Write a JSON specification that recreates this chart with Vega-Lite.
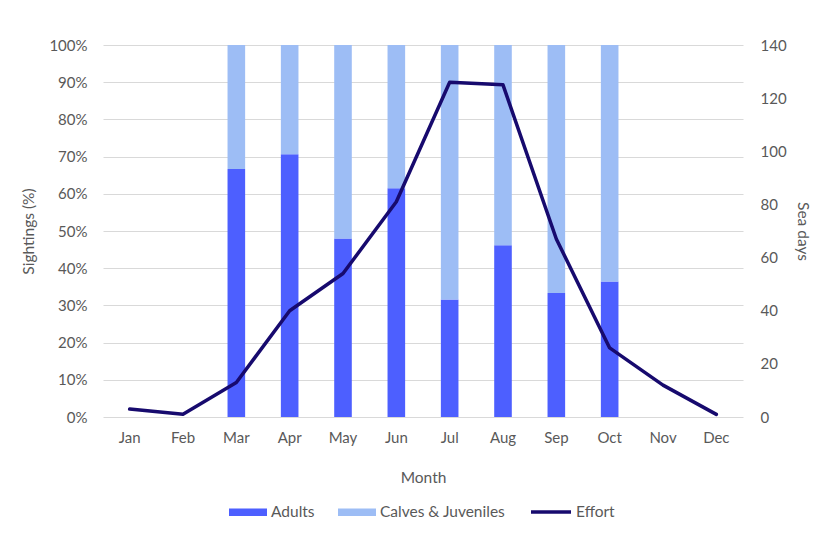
{
  "$schema": "https://vega.github.io/schema/vega-lite/v6.json",
  "autosize": "none",
  "width": 640,
  "height": 372,
  "padding": {"left": 103, "top": 45, "right": 74, "bottom": 123},
  "background": "white",
  "config": {
    "font": "Lato",
    "view": {"stroke": null},
    "axis": {
      "labelFont": "Lato",
      "titleFont": "Lato",
      "labelFontSize": 15,
      "titleFontSize": 15.5,
      "labelColor": "#595959",
      "titleColor": "#595959",
      "titleFontWeight": "normal",
      "domain": false,
      "ticks": false
    },
    "legend": {
      "labelFont": "Lato",
      "labelFontSize": 15.5,
      "labelColor": "#595959"
    }
  },
  "datasets": {
    "sightings": [
      {"month": "Mar", "group": "Adults", "share": 0.667},
      {"month": "Mar", "group": "Calves & Juveniles", "share": 0.333},
      {"month": "Apr", "group": "Adults", "share": 0.706},
      {"month": "Apr", "group": "Calves & Juveniles", "share": 0.294},
      {"month": "May", "group": "Adults", "share": 0.48},
      {"month": "May", "group": "Calves & Juveniles", "share": 0.52},
      {"month": "Jun", "group": "Adults", "share": 0.615},
      {"month": "Jun", "group": "Calves & Juveniles", "share": 0.385},
      {"month": "Jul", "group": "Adults", "share": 0.316},
      {"month": "Jul", "group": "Calves & Juveniles", "share": 0.684},
      {"month": "Aug", "group": "Adults", "share": 0.462},
      {"month": "Aug", "group": "Calves & Juveniles", "share": 0.538},
      {"month": "Sep", "group": "Adults", "share": 0.333},
      {"month": "Sep", "group": "Calves & Juveniles", "share": 0.667},
      {"month": "Oct", "group": "Adults", "share": 0.364},
      {"month": "Oct", "group": "Calves & Juveniles", "share": 0.636}
    ],
    "effort": [
      {"month": "Jan", "days": 3},
      {"month": "Feb", "days": 1},
      {"month": "Mar", "days": 13},
      {"month": "Apr", "days": 40},
      {"month": "May", "days": 54},
      {"month": "Jun", "days": 81},
      {"month": "Jul", "days": 126},
      {"month": "Aug", "days": 125},
      {"month": "Sep", "days": 67},
      {"month": "Oct", "days": 26},
      {"month": "Nov", "days": 12},
      {"month": "Dec", "days": 1}
    ]
  },
  "encoding": {
    "x": {
      "field": "month",
      "type": "nominal",
      "sort": null,
      "scale": {
        "domain": ["Jan", "Feb", "Mar", "Apr", "May", "Jun", "Jul", "Aug", "Sep", "Oct", "Nov", "Dec"],
        "paddingInner": 0.67,
        "paddingOuter": 0.335
      },
      "axis": {"title": "Month", "labelAngle": 0, "labelPadding": 13, "titlePadding": 25, "grid": false}
    }
  },
  "layer": [
    {
      "data": {"name": "sightings"},
      "mark": {"type": "bar"},
      "encoding": {
        "y": {
          "field": "share",
          "type": "quantitative",
          "stack": "zero",
          "scale": {"domain": [0, 1]},
          "axis": {
            "title": "Sightings (%)",
            "format": "0%",
            "values": [0, 0.1, 0.2, 0.3, 0.4, 0.5, 0.6, 0.7, 0.8, 0.9, 1],
            "labelOverlap": false,
            "grid": true,
            "gridColor": "#d9d9d9",
            "labelPadding": 16,
            "titlePadding": 12
          }
        },
        "color": {
          "field": "group",
          "type": "nominal",
          "scale": {"domain": ["Adults", "Calves & Juveniles"], "range": ["#4d5fff", "#9dbdf5"]},
          "legend": {
            "title": null,
            "orient": "none",
            "direction": "horizontal",
            "legendX": 126,
            "legendY": 448,
            "symbolType": "M-1,-0.2H1V0.2H-1Z",
            "symbolSize": 1444,
            "symbolStrokeWidth": 0,
            "labelOffset": 4,
            "columnPadding": 23
          }
        },
        "order": {"field": "group", "sort": "ascending"}
      }
    },
    {
      "data": {"name": "effort"},
      "mark": {"type": "line", "strokeWidth": 3.5, "strokeJoin": "round", "strokeCap": "round"},
      "encoding": {
        "y": {
          "field": "days",
          "type": "quantitative",
          "scale": {"domain": [0, 140]},
          "axis": {
            "title": "Sea days",
            "orient": "right",
            "values": [0, 20, 40, 60, 80, 100, 120, 140],
            "labelOverlap": false,
            "grid": false,
            "labelPadding": 17,
            "titlePadding": 8
          }
        },
        "stroke": {
          "datum": "Effort",
          "scale": {"domain": ["Effort"], "range": ["#170a6e"]},
          "legend": {
            "title": null,
            "orient": "none",
            "legendX": 426,
            "legendY": 445,
            "symbolType": "M-1,0H1",
            "symbolSize": 1600,
            "symbolStrokeWidth": 3.5,
            "labelOffset": 3
          }
        }
      }
    }
  ],
  "resolve": {"scale": {"y": "independent"}}
}
